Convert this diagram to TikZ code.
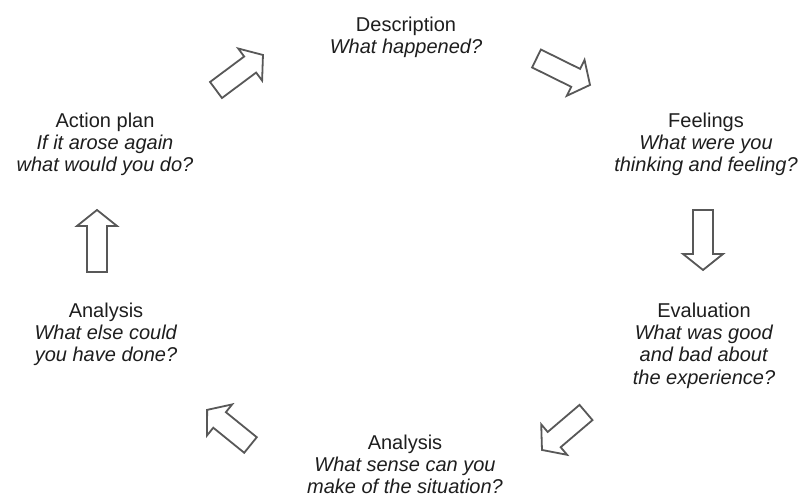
\documentclass[tikz,border=0pt]{standalone}
\usepackage{fontspec}
\setmainfont{Liberation Sans}
\definecolor{txtcol}{HTML}{1E1E1E}
\definecolor{arrcol}{HTML}{585858}
\newcommand{\cyclearrow}[4]{%
  \draw[arrowbox, shift={(#1,#2)}, rotate=#3]
    (0,-10) -- ({#4-16},-10) -- ({#4-16},-20) -- (#4,0) -- ({#4-16},20) -- ({#4-16},10) -- (0,10) -- cycle;}
\begin{document}
\begin{tikzpicture}[x=1pt,y=1pt,
  stage/.style={align=center, inner sep=0pt, text=txtcol, font=\fontsize{20}{22.3}\selectfont},
  arrowbox/.style={draw=arrcol, fill=white, line width=1.8pt, line join=miter}]
\useasboundingbox[fill=white] (0,0) rectangle (801,498);
% stage texts
\node[stage] (desc) at (406,461) {Description\\\textit{What happened?}};
\node[stage] (feel) at (706,353.5) {Feelings\\\textit{What were you}\\\textit{thinking and feeling?}};
\node[stage] (eval) at (704,152.5) {Evaluation\\\textit{What was good}\\\textit{and bad about}\\\textit{the experience?}};
\node[stage] (anab) at (405,33.5) {Analysis\\\textit{What sense can you}\\\textit{make of the situation?}};
\node[stage] (anal) at (106,163.5) {Analysis\\\textit{What else could}\\\textit{you have done?}};
\node[stage] (act) at (105,353.5) {Action plan\\\textit{If it arose again}\\\textit{what would you do?}};
% cycle arrows
\cyclearrow{216}{408}{36.7}{58.6}
\cyclearrow{536.5}{439.5}{-26.3}{59.7}
\cyclearrow{703}{288}{-90}{60}
\cyclearrow{586}{85.5}{220.4}{57.8}
\cyclearrow{250.5}{53}{141}{55.8}
\cyclearrow{97}{226}{90}{62}
\end{tikzpicture}
\end{document}
